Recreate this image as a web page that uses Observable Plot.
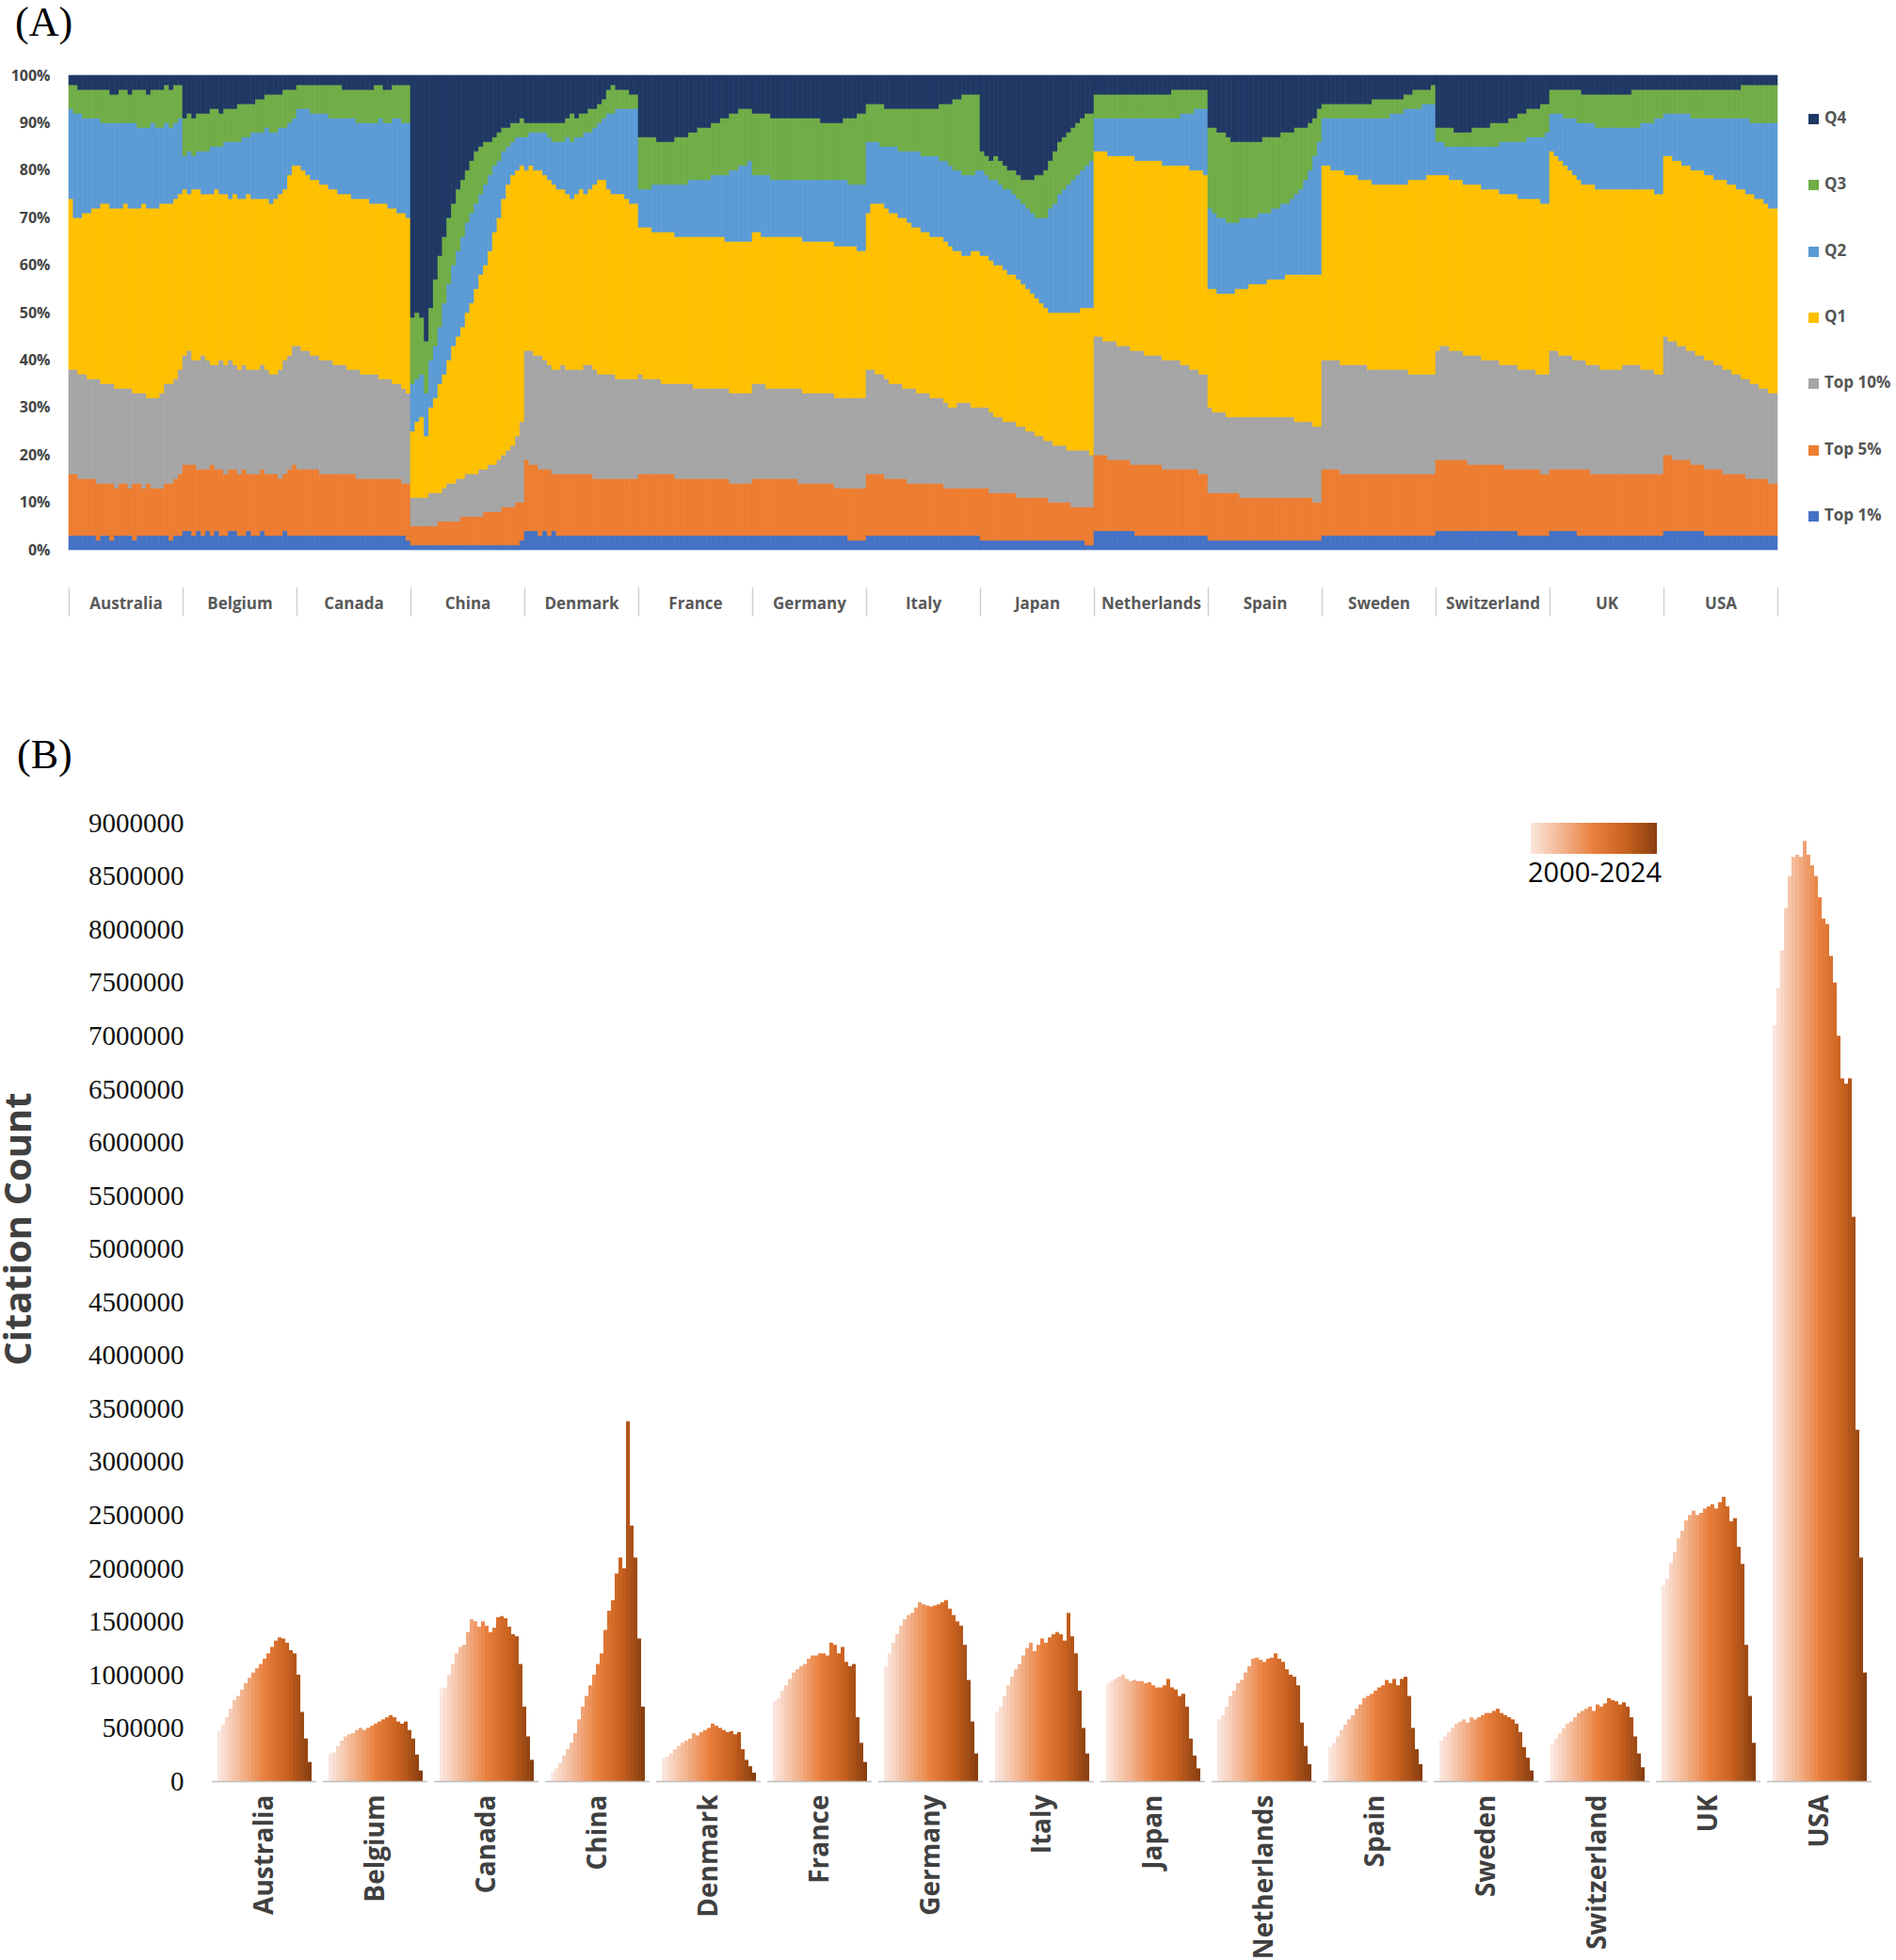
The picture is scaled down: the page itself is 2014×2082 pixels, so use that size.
<!DOCTYPE html>
<html><head><meta charset="utf-8">
<script src="https://cdn.jsdelivr.net/npm/d3@7"></script>
<script src="https://cdn.jsdelivr.net/npm/@observablehq/plot@0.6"></script>
<style>
body{margin:0;background:#fff;width:2014px;height:2082px;position:relative;overflow:hidden;font-family:"Liberation Sans",sans-serif}
.pl{position:absolute;font-family:"Liberation Serif",serif;font-size:44px;color:#000;z-index:5;line-height:1}
#a,#b{position:absolute;left:0}
#a{top:0}#b{top:820px}
.lg{position:absolute;font:bold 17px "Open Sans",sans-serif;color:#555;z-index:5}
.lg span{display:inline-block;width:11px;height:11px;margin-right:6px;vertical-align:-1px}
</style></head><body>
<div class="pl" style="left:16px;top:2px">(A)</div>
<div class="pl" style="left:18px;top:780px">(B)</div>
<div id="a"></div><div id="b"></div>
<div id="lgA"></div>
<div style="position:absolute;left:1626px;top:874px;width:134px;height:33px;background:linear-gradient(to right,#fbe6de,#f3b48f,#e97f3d,#c9621f,#8a3f10);z-index:5"></div>
<div style="position:absolute;left:1612px;top:906px;width:164px;text-align:center;font:29px 'Open Sans',sans-serif;z-index:5">2000-2024</div>
<div style="position:absolute;left:-133px;top:1278px;width:300px;text-align:center;transform:rotate(-90deg);font:bold 40px 'Open Sans',sans-serif;color:#404040;z-index:5">Citation Count</div>
<script>
const countries=["Australia","Belgium","Canada","China","Denmark","France","Germany","Italy","Japan","Netherlands","Spain","Sweden","Switzerland","UK","USA"];
const categories=["Top 1%","Top 5%","Top 10%","Q1","Q2","Q3","Q4"];
const catColors=["#4472C4","#ED7D31","#A5A5A5","#FFC000","#5B9BD5","#70AD47","#203864"];
// cumulative upper boundaries (%) per year 2000-2024: Top1, Top5, Top10, Q1, Q2, Q3
const australia=[[3,3,3,3,3,3,2,3,3,2,3,3,3,3,2,3,3,3,3,3,3,3,2,3,3],[16,16,15,15,15,15,14,14,14,14,13,14,14,13,14,14,13,14,13,13,13,14,14,15,16],[38,38,37,37,36,36,36,35,35,35,34,34,34,34,33,33,33,32,32,32,33,35,35,36,38],[74,70,70,71,71,72,72,73,73,72,72,72,73,72,72,72,73,72,72,72,73,73,73,74,75],[93,92,92,91,91,91,91,90,90,90,90,90,90,90,90,89,89,89,90,89,89,90,89,90,91],[98,98,97,97,97,97,97,97,97,96,96,97,97,96,97,97,97,96,97,97,97,98,97,98,98]];
const belgium=[[4,4,3,4,3,4,3,4,3,3,4,4,3,3,4,3,3,4,3,3,3,3,4,3,3],[18,18,18,17,17,17,18,17,17,16,17,17,16,17,16,16,16,17,16,16,16,15,16,17,18],[41,42,40,40,41,40,39,39,40,39,40,39,38,39,38,38,38,39,38,37,37,38,40,41,43],[76,75,76,76,75,75,75,76,75,75,74,75,74,74,75,74,74,74,74,73,74,75,76,79,81],[83,84,83,84,84,84,85,85,85,86,86,86,86,87,87,88,88,88,89,88,88,89,89,90,91],[91,92,91,92,92,92,93,93,92,93,93,93,94,94,94,94,95,95,96,96,96,96,97,97,97]];
const canada=[[3,3,3,3,3,3,3,3,3,3,3,3,3,3,3,3,3,3,3,3,3,3,3,3,2],[17,17,17,17,17,16,16,16,16,16,16,16,16,15,15,15,15,15,15,15,15,15,15,14,14],[43,42,42,41,41,40,40,40,39,39,39,38,38,38,37,37,37,37,36,36,36,35,35,34,33],[81,80,79,78,78,77,77,76,76,75,75,75,74,74,74,74,73,73,73,73,72,72,71,71,70],[93,93,93,92,92,92,92,91,91,91,91,91,91,90,90,90,90,90,91,90,90,91,91,90,90],[98,98,98,98,98,98,98,98,98,98,97,97,97,97,97,97,97,98,98,97,97,98,98,98,98]];
const china=[[1,1,1,1,1,1,1,1,1,1,1,1,1,1,1,1,1,1,1,1,1,1,1,1,2],[5,5,5,5,5,5,6,6,6,6,6,7,7,7,7,7,8,8,8,8,9,9,9,10,10],[11,11,11,11,12,12,12,13,14,14,15,15,16,16,16,17,17,18,18,19,20,21,22,24,27],[25,27,28,24,30,32,35,37,40,43,45,47,50,52,55,58,60,63,67,70,74,77,79,80,81],[35,36,37,33,40,43,47,52,56,60,63,66,69,71,73,75,77,79,81,82,84,85,86,87,87],[49,50,49,44,51,57,62,66,70,73,76,78,80,82,84,85,86,86,87,88,89,89,90,90,91]];
const denmark=[[4,4,4,3,4,3,4,3,3,3,3,3,3,3,3,3,3,3,3,3,3,3,3,3,3],[19,18,18,17,17,17,16,16,16,16,16,16,16,16,16,15,15,15,15,15,15,15,15,15,15],[42,42,41,41,40,39,38,38,39,38,38,38,38,39,39,38,37,37,37,37,36,36,36,36,36],[80,81,80,80,79,78,77,76,76,75,74,75,76,75,76,77,78,78,76,75,75,75,74,73,73],[87,88,88,88,88,87,86,86,86,87,86,87,87,88,88,89,90,91,92,92,93,93,93,93,93],[90,90,90,90,90,90,90,90,90,91,92,91,92,92,93,93,94,95,97,98,97,97,97,96,96]];
const france=[[3,3,3,3,3,3,3,3,3,3,3,3,3,3,3,3,3,3,3,3,3,3,3,3,3],[16,16,16,16,16,16,16,16,15,15,15,15,15,15,15,15,15,15,15,15,14,14,14,14,14],[37,36,36,36,36,35,35,35,35,35,35,35,34,34,34,34,34,34,34,34,33,33,33,33,33],[68,68,68,67,67,67,67,67,66,66,66,66,66,66,66,66,66,66,66,65,65,65,65,65,65],[76,76,76,77,77,77,77,77,77,77,77,78,78,78,78,78,79,79,79,79,80,80,81,81,82],[87,87,87,87,86,86,86,86,87,87,87,88,88,89,89,89,90,90,91,91,92,92,93,93,93]];
const germany=[[3,3,3,3,3,3,3,3,3,3,3,3,3,3,3,3,3,3,3,3,3,2,2,2,2],[15,15,15,15,15,15,15,15,15,15,14,14,14,14,14,14,14,14,13,13,13,13,13,13,13],[35,35,35,34,34,34,34,34,34,34,34,33,33,33,33,33,33,33,32,32,32,32,32,32,32],[67,67,66,66,66,66,66,66,66,66,66,65,65,65,65,65,65,65,64,64,64,64,64,63,63],[79,79,79,79,78,78,78,78,78,78,78,78,78,78,78,78,78,78,78,78,78,77,77,77,77],[92,92,92,92,91,91,91,91,91,91,91,91,91,91,91,90,90,90,90,90,91,91,91,92,92]];
const italy=[[3,3,3,3,3,3,3,3,3,3,3,3,3,3,3,3,3,3,3,3,3,3,3,3,3],[16,16,16,16,15,15,15,15,15,14,14,14,14,14,14,14,14,13,13,13,13,13,13,13,13],[38,38,37,37,36,35,35,35,34,34,34,33,33,33,32,32,32,31,30,30,31,31,31,30,30],[71,73,73,73,72,71,71,70,70,69,68,68,67,67,66,66,66,65,64,63,63,62,62,63,63],[86,86,86,85,85,85,85,84,84,84,84,84,83,83,83,83,82,82,81,80,80,79,79,79,80],[94,94,94,94,93,93,93,93,93,93,93,93,93,93,93,93,94,94,94,95,95,96,96,96,96]];
const japan=[[2,2,2,2,2,2,2,2,2,2,2,2,2,2,2,2,2,2,2,2,2,2,2,1,1],[13,13,12,12,12,12,12,12,11,11,11,11,11,11,11,10,10,10,10,10,9,9,9,9,9],[30,30,29,28,28,27,27,27,26,26,25,25,24,24,23,23,22,22,22,21,21,21,21,21,20],[62,62,61,60,60,59,58,58,57,56,55,54,53,52,51,50,50,50,50,50,50,50,51,51,51],[80,79,78,78,77,76,76,75,74,73,72,71,70,70,70,72,73,75,76,77,78,79,80,81,82],[84,83,82,83,82,81,80,80,79,78,78,78,79,79,80,82,84,86,87,88,89,90,91,92,92]];
const netherlands=[[4,4,4,4,4,4,4,4,4,3,3,3,3,3,3,3,3,3,3,3,3,3,3,3,3],[20,20,20,19,19,19,19,19,18,18,18,18,18,18,18,17,17,17,17,17,17,17,17,16,16],[45,45,44,44,44,43,43,43,42,42,42,41,41,41,41,40,40,40,40,39,39,38,38,37,37],[84,84,84,83,83,83,83,83,83,82,82,82,82,82,82,81,81,81,81,81,81,80,80,80,79],[91,91,91,91,91,91,91,91,91,91,91,91,91,91,91,91,91,91,91,92,92,92,93,93,93],[96,96,96,96,96,96,96,96,96,96,96,96,96,96,96,96,96,97,97,97,97,97,97,97,97]];
const spain=[[2,2,2,2,2,2,2,2,2,2,2,2,2,2,2,2,2,2,2,2,2,2,2,2,2],[12,12,12,12,12,12,12,11,11,11,11,11,11,11,11,11,11,11,11,11,11,11,11,10,10],[30,29,29,29,28,28,28,28,28,28,28,28,28,28,28,28,28,28,28,27,27,27,27,26,26],[55,55,54,54,54,54,55,55,55,56,56,56,56,57,57,57,57,58,58,58,58,58,58,58,58],[72,71,70,70,69,69,69,70,70,70,70,71,71,71,72,72,73,73,74,75,76,78,80,83,86],[89,89,88,88,87,86,86,86,86,86,86,86,87,87,87,87,88,88,88,89,89,89,90,91,93]];
const sweden=[[3,3,3,3,3,3,3,3,3,3,3,3,3,3,3,3,3,3,3,3,3,3,3,3,3],[17,17,17,17,16,16,16,16,16,16,16,16,16,16,16,16,16,16,16,16,16,16,16,16,16],[40,40,40,40,39,39,39,39,39,39,38,38,38,38,38,38,38,38,38,37,37,37,37,37,37],[81,81,80,80,80,79,79,79,78,78,78,77,77,77,77,77,77,77,77,78,78,78,78,79,79],[91,91,91,91,91,91,91,91,91,91,91,91,91,91,91,92,92,92,93,93,93,93,94,94,94],[94,94,94,94,94,94,94,94,94,94,94,95,95,95,95,95,95,95,96,96,97,97,97,97,98]];
const switzerland=[[4,4,4,4,4,4,4,4,4,4,4,4,4,4,4,4,4,4,3,3,3,3,3,3,3],[19,19,19,19,19,19,19,18,18,18,18,18,18,18,18,17,17,17,17,17,17,17,17,16,16],[42,43,43,42,42,42,41,41,41,41,40,40,40,40,39,39,39,39,38,38,38,38,37,37,37],[79,79,79,78,78,78,77,77,77,77,76,76,76,76,75,75,75,75,74,74,74,74,74,73,73],[86,86,85,85,85,85,85,85,85,85,85,85,85,85,86,86,86,86,86,86,87,87,87,87,88],[89,89,89,89,88,88,88,88,89,89,89,89,90,90,90,90,91,91,92,92,93,93,93,94,94]];
const uk=[[4,4,4,4,4,4,3,3,3,3,3,3,3,3,3,3,3,3,3,3,3,3,3,3,3],[17,17,17,17,17,17,17,17,17,16,16,16,16,16,16,16,16,16,16,16,16,16,16,16,16],[42,42,41,41,41,40,40,40,39,39,39,38,38,38,38,38,39,39,39,39,38,38,38,37,37],[84,83,82,81,80,79,78,77,77,77,76,76,76,76,76,76,76,76,76,76,76,76,76,75,75],[92,92,92,91,91,91,90,90,90,90,89,89,89,89,89,89,89,89,89,89,90,90,90,91,91],[97,97,97,97,97,97,97,96,96,96,96,96,96,96,96,96,96,96,97,97,97,97,97,97,97]];
const usa=[[4,4,4,4,4,4,4,4,4,3,3,3,3,3,3,3,3,3,3,3,3,3,3,3,3],[20,20,19,19,19,19,18,18,18,17,17,17,17,16,16,16,16,16,15,15,15,15,15,14,14],[45,44,44,43,43,42,42,41,41,40,40,39,39,38,38,37,37,36,36,35,35,34,34,33,33],[83,83,82,82,81,81,80,80,80,79,79,78,78,78,77,77,76,76,75,75,74,74,73,72,72],[92,92,92,92,92,92,91,91,91,91,91,91,91,91,91,91,91,91,91,90,90,90,90,90,90],[97,97,97,97,97,97,97,97,97,97,97,97,97,97,97,97,97,98,98,98,98,98,98,98,98]];
const shares=[australia,belgium,canada,china,denmark,france,germany,italy,japan,netherlands,spain,sweden,switzerland,uk,usa];

// Panel B: citation counts 2000-2024
const citAustralia=[470000,530000,600000,680000,760000,800000,860000,920000,970000,1020000,1060000,1100000,1150000,1200000,1260000,1320000,1350000,1340000,1300000,1230000,1200000,1000000,650000,400000,180000];
const citBelgium=[260000,270000,330000,380000,420000,440000,450000,480000,500000,480000,500000,520000,540000,560000,580000,600000,620000,600000,560000,540000,560000,480000,400000,250000,100000];
const citCanada=[870000,880000,1000000,1100000,1200000,1260000,1280000,1400000,1520000,1500000,1450000,1500000,1460000,1400000,1440000,1540000,1550000,1530000,1450000,1380000,1360000,1100000,700000,420000,200000];
const citChina=[80000,120000,170000,240000,300000,360000,450000,580000,700000,800000,900000,1000000,1100000,1200000,1420000,1600000,1700000,1950000,2100000,2000000,3380000,2400000,2100000,1340000,700000];
const citDenmark=[220000,230000,260000,300000,330000,360000,380000,400000,450000,430000,460000,480000,500000,540000,520000,500000,480000,460000,470000,440000,460000,300000,200000,140000,80000];
const citFrance=[750000,780000,850000,900000,960000,1020000,1050000,1080000,1100000,1150000,1180000,1180000,1200000,1200000,1180000,1300000,1280000,1200000,1260000,1120000,1080000,1100000,600000,360000,180000];
const citGermany=[1080000,1200000,1300000,1380000,1460000,1520000,1560000,1580000,1630000,1680000,1660000,1650000,1640000,1650000,1660000,1680000,1700000,1620000,1560000,1500000,1460000,1280000,950000,560000,260000];
const citItaly=[650000,700000,800000,900000,980000,1050000,1100000,1180000,1250000,1300000,1220000,1280000,1340000,1300000,1350000,1380000,1400000,1380000,1320000,1580000,1360000,1200000,850000,500000,260000];
const citJapan=[920000,940000,960000,980000,1000000,960000,940000,950000,940000,940000,920000,930000,900000,880000,880000,900000,960000,880000,860000,800000,820000,700000,400000,240000,120000];
const citNetherlands=[580000,620000,700000,800000,850000,920000,950000,1020000,1080000,1150000,1160000,1140000,1120000,1150000,1160000,1200000,1150000,1120000,1050000,1000000,980000,900000,550000,330000,160000];
const citSpain=[320000,360000,420000,480000,530000,580000,620000,680000,720000,780000,800000,820000,850000,880000,900000,950000,920000,960000,900000,960000,980000,800000,500000,300000,160000];
const citSweden=[380000,420000,460000,500000,540000,560000,580000,550000,600000,580000,600000,620000,640000,640000,660000,680000,640000,620000,600000,580000,540000,460000,320000,220000,100000];
const citSwitzerland=[350000,400000,450000,500000,540000,560000,600000,640000,660000,680000,700000,660000,720000,700000,730000,780000,760000,750000,720000,740000,700000,600000,420000,260000,130000];
const citUK=[1840000,1900000,2050000,2150000,2280000,2350000,2450000,2500000,2540000,2500000,2520000,2560000,2580000,2600000,2560000,2620000,2670000,2580000,2440000,2470000,2200000,2040000,1280000,800000,360000];
const citUSA=[7100000,7450000,7800000,8200000,8500000,8680000,8700000,8680000,8830000,8700000,8600000,8500000,8300000,8100000,8050000,7750000,7500000,7000000,6600000,6550000,6600000,5300000,3300000,2100000,1020000];
const citations=[citAustralia,citBelgium,citCanada,citChina,citDenmark,citFrance,citGermany,citItaly,citJapan,citNetherlands,citSpain,citSweden,citSwitzerland,citUK,citUSA];
const years=d3.range(2000,2025);
const yTicksB=d3.range(0,9000001,500000);

// ---- Panel A
const rects=[];
shares.forEach((rows,ci)=>{
  years.forEach((yr,j)=>{
    const b=[0,...rows.map(r=>r[j]/100),1];
    for(let k=0;k<7;k++) rects.push({x1:ci*25+j,x2:ci*25+j+1,y1:b[k],y2:b[k+1],cat:categories[k]});
  });
});
const seps=d3.range(0,16).map(i=>i*25);
const centers=countries.map((c,i)=>({x:i*25+12.5,c}));
const pA=Plot.plot({
  width:2014,height:680,marginLeft:73,marginRight:126,marginTop:80,marginBottom:96,
  style:{fontFamily:"'Open Sans',sans-serif",background:"transparent"},
  x:{domain:[0,375],axis:null},
  y:{domain:[0,1],label:null},
  color:{domain:categories,range:catColors},
  marks:[
    Plot.axisY({ticks:d3.range(0,1.01,0.1),tickFormat:d3.format(".0%"),tickSize:0,tickPadding:20,label:null,fontWeight:"bold",fontSize:16,fill:"#444"}),
    Plot.rect(rects,{x1:"x1",x2:"x2",y1:"y1",y2:"y2",fill:"cat",stroke:"cat",strokeWidth:0.6}),
    Plot.ruleX(seps,{y1:-0.079,y2:-0.14,stroke:"#d0d0d0",strokeWidth:1.5}),
    Plot.text(centers,{x:"x",y:-0.113,text:"c",fontSize:17,fontWeight:"bold",fill:"#595959"})
  ]
});
document.getElementById("a").appendChild(pA);
const lg=document.getElementById("lgA");
const lgY=[547,477,406,336,266,195,125];
categories.forEach((c,k)=>{
  const d=document.createElement("div");d.className="lg";
  d.style.left="1921px";d.style.top=(lgY[k]-12)+"px";
  d.innerHTML=`<span style="background:${catColors[k]}"></span>${c}`;
  lg.appendChild(d);
});

// ---- Panel B
const barData=[];
countries.forEach((c,ci)=>years.forEach((yr,j)=>barData.push({country:c,year:yr,value:citations[ci][j]})));
const ramp=d3.piecewise(d3.interpolateRgb,["#fbe6de","#f3b48f","#e97f3d","#c9621f","#8a3f10"]);
const pB=Plot.plot({
  width:2014,height:1262,marginLeft:219,marginRight:20,marginTop:54,marginBottom:190,
  style:{background:"transparent"},
  fx:{domain:countries,paddingInner:0.06,paddingOuter:0.01,label:null},
  x:{domain:years,paddingInner:0,paddingOuter:0,axis:null},
  y:{domain:[0,9000000],label:null},
  color:{type:"linear",domain:[2000,2024],interpolate:()=>ramp},
  marks:[
    Plot.axisY({ticks:yTicksB,tickFormat:d=>String(d),tickSize:0,tickPadding:30,fontSize:29,fontFamily:"'Liberation Serif',serif",fill:"#111",label:null}),
    Plot.axisFx({anchor:"bottom",tickRotate:-90,tickSize:0,tickPadding:14,fontSize:28,fontWeight:"bold",fontFamily:"'Open Sans',sans-serif",fill:"#404040",label:null}),
    Plot.barY(barData,{fx:"country",x:"year",y:"value",fill:"year",inset:0}),
    Plot.ruleY([0],{stroke:"#bfbfbf",strokeWidth:1.5})
  ]
});
document.getElementById("b").appendChild(pB);
</script>
</body></html>
